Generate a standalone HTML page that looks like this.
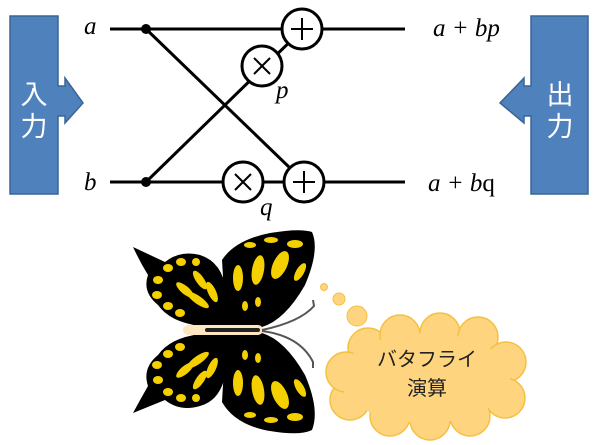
<!DOCTYPE html>
<html><head><meta charset="utf-8"><style>
html,body{margin:0;padding:0;background:#fff;width:600px;height:445px;overflow:hidden}
text{font-family:"Liberation Serif",serif}
</style></head><body>
<svg width="600" height="445" viewBox="0 0 600 445" xmlns="http://www.w3.org/2000/svg">
<!-- input -->
<path d="M10,16 H58 V86 H65 V78 L83,103 L65,123 V116 H58 V194 H10 Z" fill="#4f81bd" stroke="#3a6595" stroke-width="1.5"/>
<text x="34" y="104" font-size="27" fill="#fff" text-anchor="middle" style="font-family:'Noto Sans CJK JP',sans-serif">入</text>
<text x="34" y="136" font-size="27" fill="#fff" text-anchor="middle" style="font-family:'Noto Sans CJK JP',sans-serif">力</text>
<!-- output -->
<path d="M588,16 H531 V86 H524 V78 L500,103 L524,123 V116 H531 V194 H588 Z" fill="#4f81bd" stroke="#3a6595" stroke-width="1.5"/>
<text x="560" y="104" font-size="27" fill="#fff" text-anchor="middle" style="font-family:'Noto Sans CJK JP',sans-serif">出</text>
<text x="560" y="136" font-size="27" fill="#fff" text-anchor="middle" style="font-family:'Noto Sans CJK JP',sans-serif">力</text>
<!-- lines -->
<g stroke="#000" stroke-width="3" fill="none">
<line x1="110" y1="29" x2="405" y2="29"/>
<line x1="110" y1="182" x2="405" y2="182"/>
<line x1="146" y1="182" x2="303" y2="29"/>
<line x1="146" y1="29" x2="290" y2="168"/>
</g>
<circle cx="146" cy="29" r="5" fill="#000"/>
<circle cx="146" cy="182" r="5" fill="#000"/>
<g stroke="#000" stroke-width="3" fill="#fff">
<circle cx="302" cy="29" r="20"/>
<circle cx="262" cy="66" r="20"/>
<circle cx="243" cy="182" r="20"/>
<circle cx="304" cy="182" r="20"/>
</g>
<g stroke="#000" stroke-width="2">
<line x1="302" y1="18" x2="302" y2="40"/><line x1="291" y1="29" x2="313" y2="29"/>
<line x1="304" y1="171" x2="304" y2="193"/><line x1="293" y1="182" x2="315" y2="182"/>
<line x1="254" y1="58" x2="270" y2="74"/><line x1="270" y1="58" x2="254" y2="74"/>
<line x1="235" y1="174" x2="251" y2="190"/><line x1="251" y1="174" x2="235" y2="190"/>
</g>
<g font-style="italic" font-size="25">
<text x="84" y="34">a</text>
<text x="84" y="190">b</text>
<text x="276" y="98">p</text>
<text x="260" y="215">q</text>
<text x="433" y="36">a + bp</text>
<text x="428" y="191">a + b<tspan font-style="normal">q</tspan></text>
</g>
<!-- butterfly -->
<g>
<path d="M133,247 L165,262 Q180,250 200,255 Q222,262 226,290 L228,326 L200,326 Q170,322 158,305 Q142,292 148,275 Q140,262 133,247Z" fill="#000"/>
<path d="M222,260 Q235,240 270,233 Q300,228 312,232 Q320,250 305,285 Q285,320 262,327 L226,327 Z" fill="#000"/>
<path d="M133,413 L165,400 Q180,412 200,406 Q222,400 226,370 L228,334 L200,334 Q170,338 158,355 Q142,368 148,386 Q140,400 133,413Z" fill="#000"/>
<path d="M222,402 Q235,425 270,431 Q300,436 312,430 Q320,410 305,375 Q285,340 262,333 L226,333 Z" fill="#000"/>
<g fill="#f5d000">
<ellipse cx="158" cy="280" rx="5" ry="4"/><ellipse cx="168" cy="268" rx="5" ry="4"/><ellipse cx="181" cy="262" rx="5" ry="4"/><ellipse cx="196" cy="262" rx="4" ry="4"/><ellipse cx="157" cy="295" rx="5" ry="4"/><ellipse cx="168" cy="306" rx="5" ry="4"/><ellipse cx="180" cy="313" rx="5" ry="4"/>
<ellipse cx="185" cy="290" rx="4" ry="11" transform="rotate(-50 185 290)"/><ellipse cx="198" cy="300" rx="4" ry="13" transform="rotate(-55 198 300)"/><ellipse cx="200" cy="280" rx="4" ry="11" transform="rotate(-35 200 280)"/><ellipse cx="212" cy="292" rx="4" ry="11" transform="rotate(-25 212 292)"/>
<ellipse cx="238" cy="278" rx="5" ry="13"/><ellipse cx="258" cy="270" rx="6" ry="15" transform="rotate(10 258 270)"/><ellipse cx="280" cy="265" rx="7" ry="15" transform="rotate(25 280 265)"/><ellipse cx="250" cy="245" rx="6" ry="3"/><ellipse cx="271" cy="240" rx="7" ry="3"/><ellipse cx="295" cy="244" rx="8" ry="4"/><ellipse cx="245" cy="306" rx="3" ry="5"/><ellipse cx="258" cy="302" rx="3" ry="5"/><ellipse cx="300" cy="272" rx="4" ry="10" transform="rotate(30 300 272)"/>
<ellipse cx="158" cy="380" rx="5" ry="4"/><ellipse cx="168" cy="392" rx="5" ry="4"/><ellipse cx="181" cy="398" rx="5" ry="4"/><ellipse cx="196" cy="398" rx="4" ry="4"/><ellipse cx="157" cy="365" rx="5" ry="4"/><ellipse cx="168" cy="354" rx="5" ry="4"/><ellipse cx="180" cy="347" rx="5" ry="4"/>
<ellipse cx="185" cy="370" rx="4" ry="11" transform="rotate(50 185 370)"/><ellipse cx="198" cy="360" rx="4" ry="13" transform="rotate(55 198 360)"/><ellipse cx="200" cy="380" rx="4" ry="11" transform="rotate(35 200 380)"/><ellipse cx="212" cy="368" rx="4" ry="11" transform="rotate(25 212 368)"/>
<ellipse cx="238" cy="383" rx="5" ry="13"/><ellipse cx="258" cy="390" rx="6" ry="15" transform="rotate(-10 258 390)"/><ellipse cx="280" cy="395" rx="7" ry="15" transform="rotate(-25 280 395)"/><ellipse cx="250" cy="415" rx="6" ry="3"/><ellipse cx="271" cy="420" rx="7" ry="3"/><ellipse cx="295" cy="417" rx="8" ry="4"/><ellipse cx="245" cy="355" rx="3" ry="5"/><ellipse cx="258" cy="358" rx="3" ry="5"/><ellipse cx="300" cy="388" rx="4" ry="10" transform="rotate(-30 300 388)"/>
</g>
<rect x="183" y="325" width="80" height="10" rx="5" fill="#fde6c0"/>
<rect x="205" y="328" width="55" height="4" rx="2" fill="#222"/>
<path d="M262,330 Q300,322 314,306 L313,300 M262,331 Q300,336 313,362 L313,368" stroke="#555" stroke-width="2" fill="none"/>
</g>
<!-- thought cloud -->
<circle cx="324" cy="287" r="3.5" fill="#fed47e" stroke="#f5c040"/>
<circle cx="339" cy="299" r="6" fill="#fed47e" stroke="#f5c040"/>
<circle cx="357" cy="316" r="10" fill="#fed47e" stroke="#f5c040"/>
<g fill="#fed47e" stroke="#f5c040" stroke-width="1.5">
<circle cx="368" cy="348" r="20"/><circle cx="400" cy="335" r="20"/><circle cx="440" cy="333" r="20"/><circle cx="478" cy="337" r="20"/><circle cx="506" cy="362" r="20"/><circle cx="505" cy="398" r="20"/><circle cx="470" cy="416" r="20"/><circle cx="430" cy="420" r="20"/><circle cx="390" cy="416" r="20"/><circle cx="350" cy="400" r="20"/><circle cx="346" cy="372" r="20"/>
</g>
<ellipse cx="425" cy="378" rx="85" ry="45" fill="#fed47e"/>
<text x="427" y="366" font-size="20" text-anchor="middle" fill="#222" style="font-family:'Noto Sans CJK JP',sans-serif">バタフライ</text>
<text x="427" y="395" font-size="20" text-anchor="middle" fill="#222" style="font-family:'Noto Sans CJK JP',sans-serif">演算</text>
</svg>
</body></html>
